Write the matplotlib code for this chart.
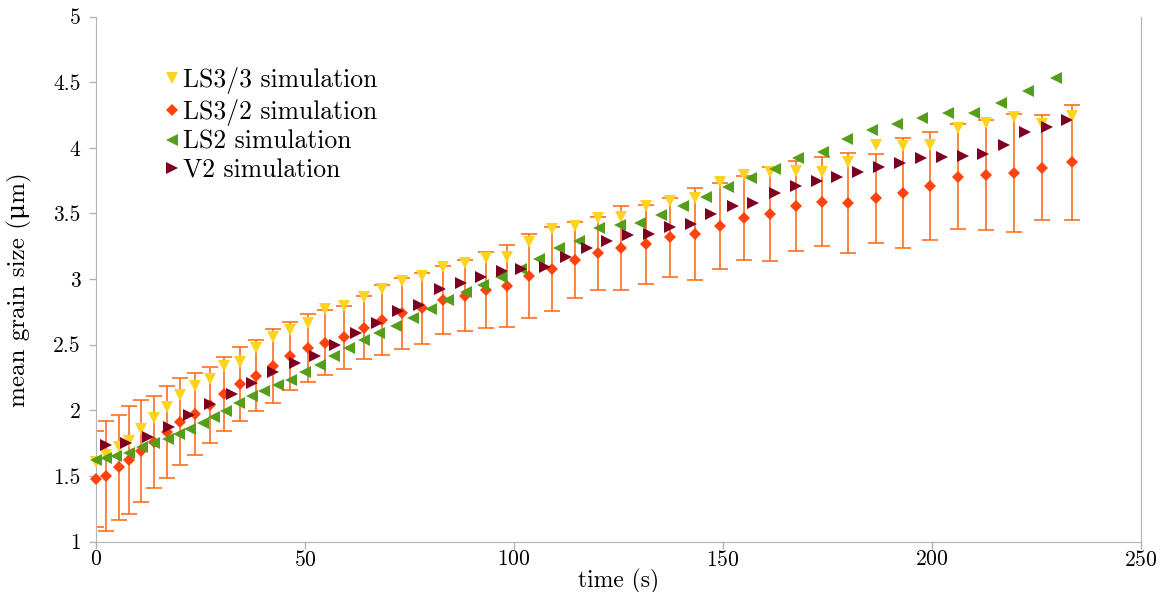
import matplotlib
matplotlib.use("Agg")
import matplotlib.pyplot as plt

plt.rcParams['font.family'] = ['cmr10', 'DejaVu Serif']
plt.rcParams['mathtext.fontset'] = 'cm'
plt.rcParams['axes.formatter.use_mathtext'] = True

# LS3 series share the same time points
t_ls3 = [0, 2.4, 5.4, 8.0, 10.8, 13.8, 16.9, 20.0, 23.6, 27.2, 30.7, 34.5, 38.3, 42.3, 46.5,
         50.7, 54.9, 59.4, 64.0, 68.5, 73.3, 78.1, 83.1, 88.2, 93.3, 98.4, 103.7, 109.1, 114.6,
         120.1, 125.7, 131.5, 137.2, 143.2, 149.2, 155.1, 161.3, 167.5, 173.6, 180.0, 186.5,
         193.0, 199.6, 206.1, 213.0, 219.7, 226.4, 233.4]
ls33 = [1.603, 1.659, 1.722, 1.766, 1.855, 1.939, 2.027, 2.116, 2.187, 2.238, 2.339, 2.37,
        2.477, 2.56, 2.611, 2.662, 2.771, 2.792, 2.865, 2.924, 2.985, 3.02, 3.089, 3.12, 3.163,
        3.17, 3.284, 3.381, 3.406, 3.462, 3.47, 3.559, 3.597, 3.615, 3.741, 3.792, 3.817, 3.823,
        3.817, 3.894, 4.02, 4.013, 4.02, 4.147, 4.186, 4.232, 4.18, 4.242]
ls32 = [1.474, 1.499, 1.565, 1.621, 1.69, 1.76, 1.832, 1.913, 1.971, 2.04, 2.124, 2.2, 2.263,
        2.337, 2.413, 2.472, 2.515, 2.556, 2.629, 2.688, 2.739, 2.777, 2.84, 2.872, 2.916, 2.947,
        3.023, 3.074, 3.145, 3.196, 3.234, 3.265, 3.318, 3.343, 3.404, 3.465, 3.495, 3.556,
        3.589, 3.581, 3.615, 3.653, 3.711, 3.78, 3.792, 3.81, 3.848, 3.889]
ls32_err = [0.365, 0.42, 0.40, 0.41, 0.39, 0.35, 0.35, 0.33, 0.31, 0.29, 0.28, 0.28, 0.27, 0.28,
            0.26, 0.26, 0.25, 0.24, 0.24, 0.27, 0.27, 0.27, 0.26, 0.27, 0.29, 0.31, 0.32, 0.32,
            0.29, 0.28, 0.32, 0.30, 0.30, 0.35, 0.33, 0.32, 0.36, 0.34, 0.34, 0.38, 0.34, 0.42,
            0.41, 0.40, 0.42, 0.45, 0.40, 0.44]

t_ls2 = [0, 2.4, 4.9, 7.8, 11.0, 14.0, 17.2, 19.8, 22.5, 25.5, 28.3, 31.1, 34.1, 37.3, 40.3,
         43.5, 46.7, 49.9, 53.5, 57.0, 60.6, 64.2, 67.8, 71.8, 75.8, 80.2, 84.2, 88.4, 92.6, 97.0,
         101.6, 106.1, 110.8, 115.5, 120.3, 125.3, 130.1, 135.1, 140.4, 145.9, 151.2, 156.8,
         162.4, 168.0, 173.8, 179.6, 185.7, 191.7, 197.7, 203.9, 210.0, 216.4, 222.9, 229.6]
ls2 = [1.621, 1.634, 1.651, 1.677, 1.722, 1.753, 1.779, 1.819, 1.855, 1.905, 1.951, 1.994, 2.053,
       2.111, 2.149, 2.192, 2.23, 2.294, 2.345, 2.413, 2.472, 2.535, 2.591, 2.642, 2.7, 2.769,
       2.84, 2.903, 2.954, 3.017, 3.076, 3.15, 3.234, 3.292, 3.386, 3.411, 3.429, 3.488, 3.556,
       3.627, 3.699, 3.772, 3.836, 3.92, 3.97, 4.064, 4.135, 4.181, 4.224, 4.262, 4.267, 4.343,
       4.434, 4.529]

t_v2 = [2.4, 7.2, 12.4, 17.4, 22.3, 27.3, 32.5, 37.3, 42.3, 47.5, 52.3, 57.3, 62.3, 67.3, 72.3,
        77.2, 82.4, 87.4, 92.2, 97.2, 101.7, 107.3, 112.4, 117.4, 122.3, 127.3, 132.3, 137.3,
        142.3, 147.2, 152.3, 157.2, 162.4, 167.5, 172.4, 177.3, 182.3, 187.4, 192.3, 197.3,
        202.3, 207.3, 212.3, 217.2, 222.2, 227.4, 232.2]
v2 = [1.735, 1.748, 1.794, 1.875, 1.964, 2.048, 2.124, 2.208, 2.294, 2.358, 2.413, 2.497, 2.586,
      2.662, 2.756, 2.802, 2.921, 2.967, 3.015, 3.063, 3.074, 3.094, 3.17, 3.234, 3.29, 3.335,
      3.345, 3.398, 3.419, 3.493, 3.556, 3.581, 3.657, 3.709, 3.749, 3.775, 3.813, 3.856, 3.886,
      3.92, 3.932, 3.94, 3.95, 4.021, 4.122, 4.16, 4.211]

fig = plt.figure(figsize=(11.66, 5.92), dpi=100)
ax = fig.add_axes([0.0823, 0.0853, 0.8963, 0.8868])

# error bars of LS3/2
ax.errorbar(t_ls3, ls32, yerr=ls32_err, fmt='none', ecolor='#FF7020', elinewidth=1.2,
            capsize=5.5, capthick=1.2, zorder=1)

ax.plot(t_ls3, ls33, 'v', color='#FFD320', ms=8, mew=0, label='LS3/3 simulation', zorder=3, clip_on=False)
ax.plot(t_ls3, ls32, 'D', color='#FF420E', ms=6, mew=0, label='LS3/2 simulation', zorder=3, clip_on=False)
ax.plot(t_ls2, ls2, '<', color='#579D1C', ms=8, mew=0, label='LS2 simulation', zorder=3, clip_on=False)
ax.plot(t_v2, v2, '>', color='#7E0021', ms=8, mew=0, label='V2 simulation', zorder=3, clip_on=False)

ax.set_xlim(0, 250)
ax.set_ylim(1, 5)
ax.set_xticks([0, 50, 100, 150, 200, 250])
ax.set_yticks([1, 1.5, 2, 2.5, 3, 3.5, 4, 4.5, 5])
ax.set_yticklabels(['1', '1.5', '2', '2.5', '3', '3.5', '4', '4.5', '5'])
ax.set_xlabel('time (s)', fontsize=17, labelpad=-1)
ax.set_ylabel('mean grain size (\u03bcm)', fontsize=18)
ax.yaxis.set_label_coords(-0.061, 0.479)
ax.tick_params(labelsize=15.5, color='#B3B3B3', length=5, width=1)
ax.tick_params(axis='x', pad=1)
ax.tick_params(axis='y', pad=6)

for s in ['left', 'right', 'bottom']:
    ax.spines[s].set_color('#B3B3B3')
ax.spines['top'].set_visible(False)

ax.legend(loc='upper left', bbox_to_anchor=(0.065, 0.903), frameon=False, fontsize=18.5,
          handlelength=0.6, handletextpad=0.15, labelspacing=0.17, borderaxespad=0,
          borderpad=0)

fig.savefig('out.png', dpi=100)
